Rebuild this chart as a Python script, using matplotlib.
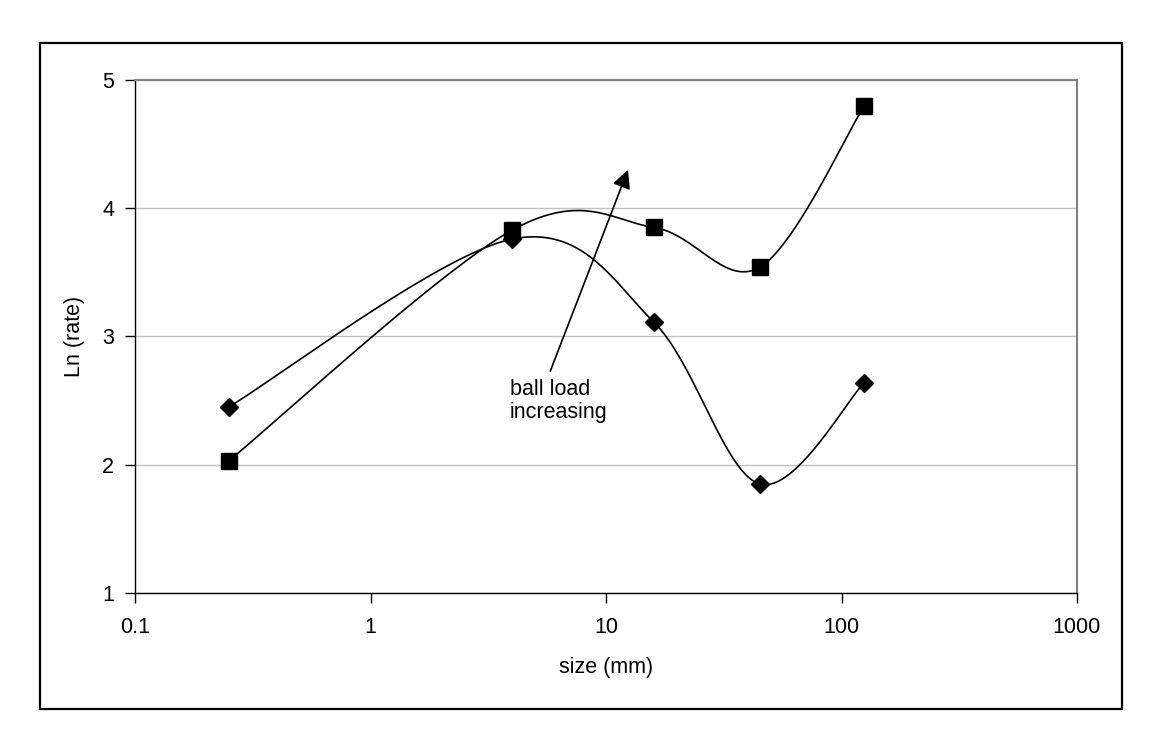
import numpy as np
import matplotlib
matplotlib.use("Agg")
import matplotlib.pyplot as plt
from matplotlib.patches import Rectangle

# ======================
# DATA
# ======================
size_mm      = [0.25, 4, 16, 45, 125]
rate_square  = [2.03, 3.83, 3.85, 3.54, 4.80]
rate_diamond = [2.45, 3.76, 3.11, 1.85, 2.64]

y_ticks = [1, 2, 3, 4, 5]
x_ticks = [0.1, 1, 10, 100, 1000]
x_tick_labels = ["0.1", "1", "10", "100", "1000"]

arrow_start = (5.8, 2.73)
arrow_end   = (12.4, 4.30)
note_text   = "ball load\nincreasing"
note_pos    = (3.9, 2.67)

plt.rcParams["font.family"] = ["Liberation Sans", "DejaVu Sans"]


def smooth_curve(ax, xs, ys, n=40):
    """Excel-style smoothed line: cubic Bezier through points in display space."""
    P = ax.transData.transform(np.column_stack([xs, ys]))
    out = []
    for i in range(len(P) - 1):
        p0 = P[i - 1] if i > 0 else P[i]
        p1, p2 = P[i], P[i + 1]
        p3 = P[i + 2] if i + 2 < len(P) else P[i + 1]
        c1 = p1 + (p2 - p0) / 6
        c2 = p2 - (p3 - p1) / 6
        t = np.linspace(0, 1, n)[:, None]
        seg = ((1 - t) ** 3) * p1 + 3 * ((1 - t) ** 2) * t * c1 + 3 * (1 - t) * t ** 2 * c2 + t ** 3 * p2
        out.append(seg if i == 0 else seg[1:])
    pts = ax.transData.inverted().transform(np.vstack(out))
    return pts[:, 0], pts[:, 1]


fig = plt.figure(figsize=(11.55, 7.44), dpi=100)
W, H = 1155, 744

# outer chart border
fig.patches.append(Rectangle((40 / W, 1 - 709 / H), 1082 / W, 666 / H,
                             transform=fig.transFigure, fill=False,
                             edgecolor="black", linewidth=1.6))

ax = fig.add_axes([135 / W, 1 - 593 / H, 942 / W, 513 / H])
ax.set_xscale("log")
ax.set_xlim(0.1, 1000)
ax.set_ylim(1, 5)
ax.set_xticks(x_ticks)
ax.set_xticklabels(x_tick_labels)
ax.minorticks_off()
ax.set_yticks(y_ticks)

ax.yaxis.grid(True, color="#c0c0c0", linewidth=1.0)
ax.set_axisbelow(True)
for side in ["top", "right"]:
    ax.spines[side].set_color("#808080")
    ax.spines[side].set_linewidth(1.5)
for side in ["left", "bottom"]:
    ax.spines[side].set_color("black")
    ax.spines[side].set_linewidth(1.0)

ax.tick_params(axis="both", labelsize=15.5, length=7, width=1.0, direction="out")
ax.tick_params(axis="x", pad=10)
ax.tick_params(axis="y", pad=8)
ax.set_xlabel("size (mm)", fontsize=15.5, labelpad=14)
ax.set_ylabel("Ln (rate)", fontsize=15.5, labelpad=12)

fig.canvas.draw()

for ys, mk, ms in [(rate_diamond, "D", 9), (rate_square, "s", 11)]:
    sx, sy = smooth_curve(ax, size_mm, ys)
    ax.plot(sx, sy, color="black", linewidth=1.2, zorder=3)
    ax.plot(size_mm, ys, linestyle="none", marker=mk, markersize=ms,
            color="black", zorder=4)

ax.annotate("", xy=arrow_end, xytext=arrow_start,
            arrowprops=dict(arrowstyle="-|>", color="black", lw=1.2,
                            mutation_scale=28, shrinkA=0, shrinkB=0))
ax.text(note_pos[0], note_pos[1], note_text, fontsize=15.5, ha="left", va="top",
        linespacing=1.15)

fig.savefig("out.png", dpi=100)
